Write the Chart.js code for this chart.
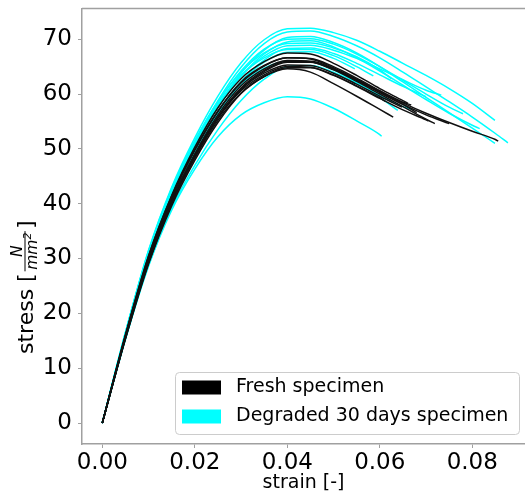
<!DOCTYPE html>
<html>
<head>
<meta charset="utf-8">
<script src="https://cdn.jsdelivr.net/npm/chart.js@4.4.0/dist/chart.umd.min.js"></script>
<style>
  html, body { margin: 0; padding: 0; background: #fff; overflow: hidden; }
  #wrap { width: 525px; height: 499px; }
</style>
</head>
<body>
<div id="wrap"><canvas id="chart" width="525" height="499"></canvas></div>
<script>
// strain steps shared by every specimen curve
const strainGrid = [0, 0.005, 0.01, 0.015, 0.02, 0.025, 0.03, 0.035, 0.04, 0.045,
                    0.05, 0.055, 0.06, 0.065, 0.07, 0.075, 0.08, 0.085];

// fresh specimens: stress on the grid, plus the last measured point
const freshStress = [
  [0, 16.0, 30.4, 41.5, 50.3, 57.5, 62.8, 65.9, 67.5, 67.3, 65.6, 63.4, 61.0, 58.8],
  [0, 15.8, 30.0, 41.0, 49.7, 56.8, 62.0, 65.1, 66.6, 66.4, 64.8, 62.7, 60.5, 58.4, 56.5, 54.8, 53.2, 51.7],
  [0, 15.6, 29.6, 40.5, 49.1, 56.2, 61.5, 64.6, 66.1, 65.9, 64.4, 62.3, 60.0, 57.7, 55.4],
  [0, 15.5, 29.3, 40.0, 48.3, 55.2, 60.2, 63.2, 64.6, 64.0, 61.9, 59.6, 57.2],
  [0, 15.9, 29.9, 40.7, 48.9, 55.8, 60.9, 63.8, 65.3, 65.2, 63.8, 61.8, 59.6],
  [0, 15.4, 29.2, 40.0, 48.5, 55.6, 60.9, 64.1, 65.8, 65.8, 64.5, 62.5, 60.3, 58.1],
  [0, 15.7, 29.7, 40.4, 48.7, 55.6, 60.6, 63.5, 65.0, 64.9, 63.5, 61.5, 59.3],
  [0, 16.1, 30.5, 41.4, 49.9, 56.9, 62.2, 65.2, 66.6, 66.5, 65.0, 62.9, 60.6, 58.5],
  [0, 15.3, 29.0, 39.6, 47.9, 54.8, 60.1, 63.2, 64.8, 64.8, 63.4, 61.4, 59.2, 57.1, 55.3],
  [0, 15.6, 29.5, 40.2, 48.7, 55.8, 61.1, 64.3, 66.0, 66.0, 64.6, 62.5, 60.3, 58.1, 56.2, 54.6]
];
const freshEnd = [
  [0.0661, 58.3], [0.0856, 51.4], [0.0719, 54.6], [0.0629, 55.8], [0.0648, 57.6],
  [0.068, 56.6], [0.0612, 58.7], [0.0668, 58.0], [0.0705, 55.1], null
];

// degraded 30 days specimens
const degradedStress = [
  [0, 16.5, 31.5, 43.0, 52.0, 59.6, 65.7, 69.9, 71.9, 72.0, 71.2, 69.8, 67.8, 65.6, 63.4, 61.0, 58.3],
  [0, 16.2, 31.0, 42.4, 51.3, 58.8, 64.9, 69.2, 71.3, 71.5, 70.5, 68.8, 66.6, 64.0, 61.3, 58.6, 55.8, 52.8],
  [0, 16.0, 30.6, 41.8, 50.5, 57.8, 63.8, 68.0, 70.3, 70.5, 69.4, 67.5, 65.0, 62.2, 59.4, 56.6, 53.8],
  [0, 16.1, 30.7, 41.9, 50.5, 57.6, 63.3, 67.3, 69.5, 69.7, 68.6, 66.6, 64.2, 61.6, 59.0, 56.5, 54.3],
  [0, 16.3, 31.0, 42.2, 50.8, 57.8, 63.2, 66.9, 68.8, 68.9, 68.0, 66.5, 64.6, 62.6, 60.7],
  [0, 15.8, 30.2, 41.3, 49.8, 56.8, 62.3, 66.2, 68.3, 68.4, 67.4, 65.6, 63.5, 61.4, 59.5],
  [0, 16.4, 31.2, 42.5, 51.0, 58.0, 63.4, 66.6, 68.1, 68.1, 67.0, 65.0],
  [0, 16.0, 30.6, 41.7, 50.0, 56.8, 62.2, 65.8, 67.6, 67.7, 66.5],
  [0, 16.5, 31.4, 42.8, 51.5, 58.6, 64.0, 67.5, 69.2, 69.3, 68.4, 66.8, 64.4],
  [0, 15.9, 30.0, 40.8, 49.3, 56.4, 61.7, 64.7, 66.0, 65.9, 64.4, 62.1, 59.4],
  [0, 15.3, 28.6, 38.8, 46.3, 52.2, 56.2, 58.4, 59.5, 59.1, 57.4, 55.1, 52.6],
  [0, 15.2, 28.8, 39.2, 47.0, 53.5, 58.8, 62.7, 65.0, 65.2, 64.0, 62.0, 59.8, 57.7],
  [0, 16.3, 31.2, 42.6, 51.2, 58.4, 64.2, 68.2, 70.0, 70.1, 69.1, 67.3, 65.0, 62.5, 60.0, 57.6]
];
const degradedEnd = [
  [0.0849, 55.2], [0.0877, 51.1], [0.0849, 51.0], [0.0816, 53.7], [0.0733, 59.8],
  null, [0.0586, 63.3], [0.0546, 64.6], [0.0625, 62.8], [0.0639, 57.0],
  [0.0604, 52.3], [0.067, 57.2], [0.078, 56.4]
];

const xTicks = [0, 0.02, 0.04, 0.06, 0.08];
const yTicks = [0, 10, 20, 30, 40, 50, 60, 70];
const legendLabels = ['Fresh specimen', 'Degraded 30 days specimen'];
const FRESH = '#111111';
const DEGRADED = '#00ffff';
const SPINE = '#a0a0a0';
const FONT = '"DejaVu Sans", sans-serif';

function curve(stress, end) {
  const pts = stress.map((y, i) => ({ x: strainGrid[i], y: y }));
  if (end) pts.push({ x: end[0], y: end[1] });
  return pts;
}

const datasets = [];
freshStress.forEach((s, i) => datasets.push({
  data: curve(s, freshEnd[i]), borderColor: FRESH, borderWidth: 1.5,
  pointRadius: 0, cubicInterpolationMode: 'monotone', fill: false
}));
degradedStress.forEach((s, i) => datasets.push({
  data: curve(s, degradedEnd[i]), borderColor: DEGRADED, borderWidth: 1.5,
  pointRadius: 0, cubicInterpolationMode: 'monotone', fill: false
}));

// top spine, legend box and the y title with its fraction
const extras = {
  id: 'extras',
  afterDraw(chart) {
    const ctx = chart.ctx;
    const a = chart.chartArea;
    ctx.save();
    ctx.strokeStyle = SPINE;
    ctx.lineWidth = 1.5;
    ctx.beginPath();
    ctx.moveTo(a.left, a.top);
    ctx.lineTo(a.right, a.top);
    ctx.stroke();

    // legend
    const bx = 175, by = 372, bw = 344, bh = 62;
    ctx.fillStyle = 'rgba(255,255,255,0.8)';
    ctx.strokeStyle = '#cccccc';
    ctx.lineWidth = 1;
    ctx.beginPath();
    ctx.roundRect(bx + 0.5, by + 0.5, bw, bh, 4);
    ctx.fill();
    ctx.stroke();
    const colors = [FRESH, DEGRADED];
    ctx.font = '19px ' + FONT;
    ctx.textBaseline = 'middle';
    ctx.textAlign = 'left';
    legendLabels.forEach((t, i) => {
      const cy = by + 15.5 + i * 29;
      ctx.fillStyle = i === 0 ? '#000000' : colors[i];
      ctx.fillRect(bx + 7, cy - 7, 39, 14);
      ctx.fillStyle = '#000';
      ctx.fillText(t, bx + 61, cy);
    });

    // y title: stress [N / mm^2]
    ctx.translate(33, 354);
    ctx.rotate(-Math.PI / 2);
    ctx.fillStyle = '#000';
    ctx.textBaseline = 'alphabetic';
    ctx.font = '22px ' + FONT;
    let x = 0;
    ctx.fillText('stress [', x, 0);
    x += ctx.measureText('stress [').width + 2;
    ctx.font = 'italic 15.5px ' + FONT;
    const wN = ctx.measureText('N').width;
    const wM = ctx.measureText('mm').width;
    ctx.font = 'italic 11px ' + FONT;
    const w2 = ctx.measureText('2').width;
    const fw = Math.max(wN, wM + w2) + 3;
    ctx.fillRect(x, -8.5, fw, 1);
    ctx.font = 'italic 15.5px ' + FONT;
    ctx.fillText('N', x + (fw - wN) / 2, -11.5);
    ctx.fillText('mm', x + (fw - wM - w2) / 2, 3.5);
    ctx.font = 'italic 11px ' + FONT;
    ctx.fillText('2', x + (fw - wM - w2) / 2 + wM, -2);
    x += fw + 2;
    ctx.font = '22px ' + FONT;
    ctx.fillText(']', x, 0);
    ctx.restore();
  }
};

new Chart(document.getElementById('chart'), {
  type: 'line',
  data: { datasets: datasets },
  options: {
    responsive: false,
    animation: false,
    layout: { padding: { top: 8.5, right: 0, left: 0, bottom: 0 } },
    plugins: { legend: { display: false }, tooltip: { enabled: false } },
    scales: {
      x: {
        type: 'linear',
        min: -0.00439,
        max: 0.0914,
        afterBuildTicks: s => { s.ticks = xTicks.map(v => ({ value: v })); },
        afterFit: s => { s.height = 55; s.paddingLeft = 0; s.paddingRight = 0; },
        ticks: {
          font: { size: 23, family: FONT }, color: '#000', padding: 1,
          maxRotation: 0, autoSkip: false,
          callback: v => v.toFixed(2)
        },
        grid: { drawOnChartArea: false, drawTicks: true, tickLength: 4, color: SPINE, lineWidth: 1 },
        border: { display: true, color: SPINE, width: 1.5 },
        title: { display: true, text: 'strain [-]', color: '#000',
                 font: { size: 19, family: FONT }, padding: { top: 0, bottom: 5 } }
      },
      y: {
        type: 'linear',
        min: -3.83,
        max: 75.6,
        afterBuildTicks: s => { s.ticks = yTicks.map(v => ({ value: v })); },
        afterFit: s => { s.width = 82; s.paddingTop = 0; s.paddingBottom = 0; },
        ticks: {
          font: { size: 23, family: FONT }, color: '#000', padding: 6,
          autoSkip: false, callback: v => String(v)
        },
        grid: { drawOnChartArea: false, drawTicks: true, tickLength: 4, color: SPINE, lineWidth: 1 },
        border: { display: true, color: SPINE, width: 1.5 }
      }
    }
  },
  plugins: [extras]
});
</script>
</body>
</html>
